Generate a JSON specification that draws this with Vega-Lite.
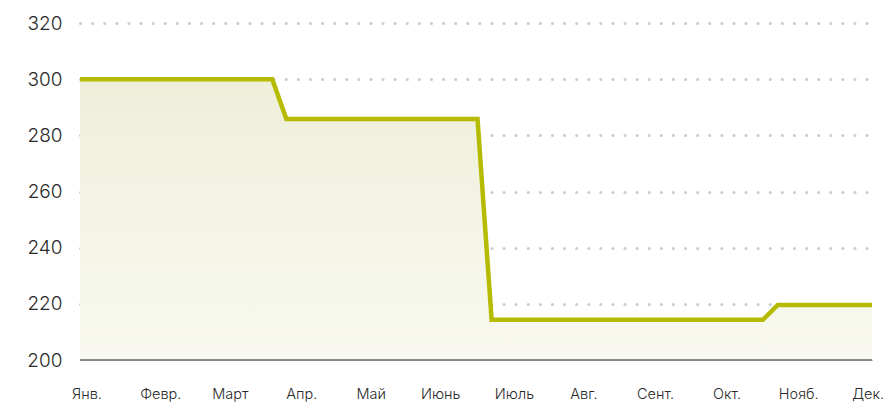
{
  "$schema": "https://vega.github.io/schema/vega-lite/v6.json",
  "width": 792,
  "height": 337,
  "autosize": {"type": "none"},
  "padding": {"left": 80, "top": 23, "right": 11, "bottom": 45},
  "background": "white",
  "config": {
    "view": {"stroke": null},
    "font": "Inter",
    "axis": {"labelFont": "Inter", "labelColor": "#2a2a2a"}
  },
  "data": {
    "values": [
      {"day": 0, "price": 300},
      {"day": 88.6, "price": 300},
      {"day": 95.1, "price": 285.8},
      {"day": 183.2, "price": 285.8},
      {"day": 189.7, "price": 214.3},
      {"day": 314.7, "price": 214.3},
      {"day": 321.6, "price": 219.6},
      {"day": 365, "price": 219.6}
    ]
  },
  "encoding": {
    "x": {
      "field": "day",
      "type": "quantitative",
      "scale": {"domain": [0, 365], "nice": false, "zero": false},
      "axis": {
        "title": null,
        "values": [3, 37, 69, 102, 134, 166, 200, 232, 265, 298, 331, 363],
        "labelExpr": "['Янв.','Февр.','Март','Апр.','Май','Июнь','Июль','Авг.','Сент.','Окт.','Нояб.','Дек.'][indexof([3, 37, 69, 102, 134, 166, 200, 232, 265, 298, 331, 363], datum.value)]",
        "grid": false,
        "ticks": false,
        "domain": true,
        "domainColor": "#888888",
        "domainWidth": 1,
        "labelPadding": 27,
        "labelFontSize": 14.5,
        "labelFontWeight": 300,
        "labelFlush": false,
        "labelOverlap": false
      }
    },
    "y": {
      "field": "price",
      "type": "quantitative",
      "scale": {"domain": [200, 320], "nice": false, "zero": false},
      "axis": {
        "title": null,
        "values": [200, 220, 240, 260, 280, 300, 320],
        "domain": false,
        "ticks": false,
        "labelFontSize": 19,
        "labelFontWeight": 300,
        "labelPadding": 18,
        "grid": true,
        "gridColor": {"condition": {"test": "datum.value == 200", "value": "transparent"}, "value": "#cccccc"},
        "gridWidth": 3,
        "gridDash": [0.1, 12],
        "gridCap": "round"
      }
    }
  },
  "layer": [
    {
      "mark": {
        "type": "area",
        "fill": {
          "gradient": "linear",
          "x1": 0, "y1": 0, "x2": 0, "y2": 1,
          "stops": [
            {"offset": 0, "color": "#eeefd9"},
            {"offset": 1, "color": "#f9f9f1"}
          ]
        }
      },
      "encoding": {"y2": {"datum": 200}}
    },
    {
      "mark": {"type": "rule", "color": "#888888", "strokeWidth": 1},
      "encoding": {"y": {"datum": 200}, "x": null}
    },
    {
      "mark": {"type": "line", "color": "#b4bb00", "strokeWidth": 4.5, "strokeJoin": "miter"}
    }
  ]
}
